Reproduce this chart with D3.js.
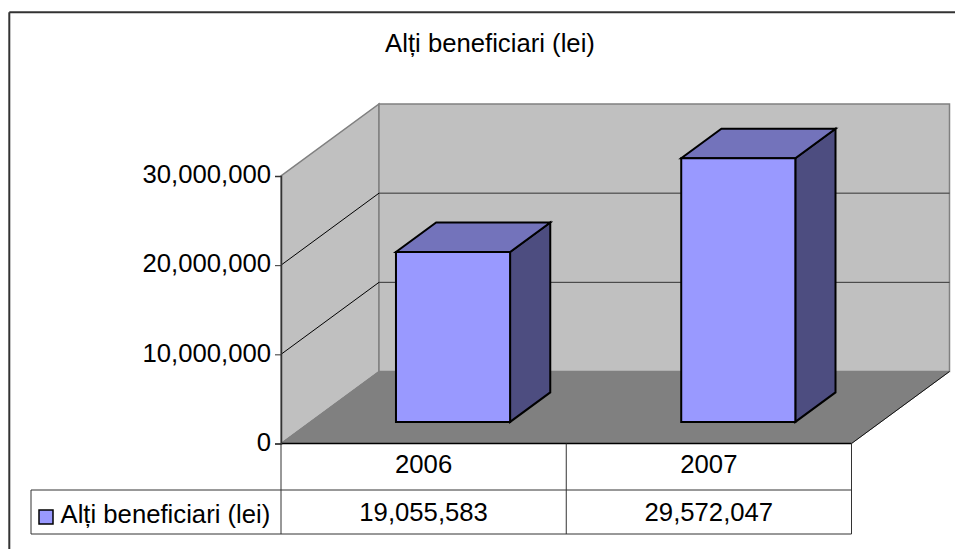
<!DOCTYPE html>
<html>
<head>
<meta charset="utf-8">
<script src="https://cdn.jsdelivr.net/npm/d3@7/dist/d3.min.js"></script>
<style>
html, body { margin: 0; padding: 0; background: #fff; }
svg { display: block; }
text { font-family: "Liberation Sans", Arial, sans-serif; fill: #000; }
</style>
</head>
<body>
<svg id="chart" width="955" height="549"></svg>
<script>
const TITLE = "Alți beneficiari (lei)";
const years = ["2006", "2007"];
const series_values = [19055583, 29572047];
const y_ticks = [0, 10000000, 20000000, 30000000];
const value_labels = ["19,055,583", "29,572,047"];

const LEFT = 281, RIGHT = 851.5, FLOOR_Y = 443.5, TOP_Y = 176;
const DEPTH_X = 98, DEPTH_Y = -72;
const TABLE_LEFT = 31, ROW_1 = 490, ROW_2 = 534;
const FONT_SIZE = 25.7;

var svg = d3.select("#chart");

var slots = d3.scaleBand().domain(years).range([LEFT, RIGHT]);
var y = d3.scaleLinear().domain([0, 30000000]).range([FLOOR_Y, TOP_Y]);

// front plane coordinates pushed back by depth d (0 = front, 1 = back wall)
function project(px, py, d) {
    return [px + d * DEPTH_X, py + d * DEPTH_Y];
}

function poly(points, fill, stroke, width) {
    svg.append("path")
        .attr("d", "M" + points.map(p => p.join(",")).join("L") + "Z")
        .attr("fill", fill)
        .attr("stroke", stroke)
        .attr("stroke-width", width)
        .attr("stroke-linejoin", "miter");
}

function line(x1, y1, x2, y2, stroke, width) {
    svg.append("line")
        .attr("x1", x1).attr("y1", y1)
        .attr("x2", x2).attr("y2", y2)
        .attr("stroke", stroke)
        .attr("stroke-width", width);
}

// outer frame, only top and left are inside the picture
line(9.3, 12.3, 955, 12.3, "#333", 2);
line(9.3, 12.3, 9.3, 549, "#333", 2);

svg.append("text")
    .attr("x", 490).attr("y", 52)
    .attr("text-anchor", "middle")
    .attr("font-size", FONT_SIZE)
    .text(TITLE);

// side wall, back wall, floor
var top_val = y(30000000);
poly([[LEFT, FLOOR_Y], [LEFT, top_val], project(LEFT, top_val, 1), project(LEFT, FLOOR_Y, 1)], "#c0c0c0", "#808080", 1.5);
poly([project(LEFT, top_val, 1), project(RIGHT, top_val, 1), project(RIGHT, FLOOR_Y, 1), project(LEFT, FLOOR_Y, 1)], "#c0c0c0", "#808080", 1.5);
poly([[LEFT, FLOOR_Y], [RIGHT, FLOOR_Y], project(RIGHT, FLOOR_Y, 1), project(LEFT, FLOOR_Y, 1)], "#808080", "#808080", 1);

// gridlines
y_ticks.filter(t => t > 0 && t < 30000000).forEach(function(t) {
    var a = project(LEFT, y(t), 0), b = project(LEFT, y(t), 1), c = project(RIGHT, y(t), 1);
    line(a[0], a[1], b[0], b[1], "#000", 1);
    line(b[0], b[1], c[0], c[1], "#333", 1);
});

// bars
const BAR_NEAR = 0.3, BAR_FAR = 0.71;
const BAR_START = 0.3, BAR_WIDTH = 0.4;
series_values.forEach(function(v, i) {
    var x0 = slots(years[i]) + slots.bandwidth() * BAR_START;
    var x1 = x0 + slots.bandwidth() * BAR_WIDTH;
    var yb = y(0), yt = y(v);
    poly([project(x1, yb, BAR_NEAR), project(x1, yt, BAR_NEAR), project(x1, yt, BAR_FAR), project(x1, yb, BAR_FAR)], "#4d4d80", "#000", 2);
    poly([project(x0, yt, BAR_NEAR), project(x1, yt, BAR_NEAR), project(x1, yt, BAR_FAR), project(x0, yt, BAR_FAR)], "#7373bb", "#000", 2);
    poly([project(x0, yb, BAR_NEAR), project(x1, yb, BAR_NEAR), project(x1, yt, BAR_NEAR), project(x0, yt, BAR_NEAR)], "#9999ff", "#000", 2);
});

// front edges of the floor
line(LEFT, FLOOR_Y, RIGHT, FLOOR_Y, "#000", 1.5);
var fr = project(RIGHT, FLOOR_Y, 1);
line(RIGHT, FLOOR_Y, fr[0], fr[1], "#111", 1);

// y axis
var axis = d3.axisLeft(y)
    .tickValues(y_ticks)
    .tickFormat(d3.format(","))
    .tickSize(6)
    .tickPadding(4);
var g = svg.append("g")
    .attr("transform", "translate(" + LEFT + ",0)")
    .call(axis);
g.select(".domain").attr("stroke", "#333").attr("stroke-width", 1.5);
g.selectAll(".tick line").attr("stroke", "#333");
g.selectAll(".tick text").attr("font-size", FONT_SIZE).attr("fill", "#000")
    .attr("dy", "0.26em")
    .style("font-family", '"Liberation Sans", Arial, sans-serif');

// data table
line(LEFT, FLOOR_Y, LEFT, ROW_2, "#333", 1);
line(slots(years[1]), FLOOR_Y, slots(years[1]), ROW_2, "#333", 1);
line(RIGHT, FLOOR_Y, RIGHT, ROW_2, "#333", 1);
line(TABLE_LEFT, ROW_1, RIGHT, ROW_1, "#333", 1);
line(TABLE_LEFT, ROW_2, RIGHT, ROW_2, "#333", 1);
line(TABLE_LEFT, ROW_1, TABLE_LEFT, ROW_2, "#333", 1);

years.forEach(function(yr, i) {
    var cx = slots(yr) + slots.bandwidth() / 2;
    svg.append("text").attr("x", cx).attr("y", 473)
        .attr("text-anchor", "middle").attr("font-size", FONT_SIZE).text(yr);
    svg.append("text").attr("x", cx).attr("y", 520.5)
        .attr("text-anchor", "middle").attr("font-size", FONT_SIZE).text(value_labels[i]);
});

// legend key
svg.append("rect")
    .attr("x", 39).attr("y", 510)
    .attr("width", 14).attr("height", 14)
    .attr("fill", "#9999ff")
    .attr("stroke", "#000")
    .attr("stroke-width", 1.5);
svg.append("text").attr("x", 60.5).attr("y", 522.5)
    .attr("font-size", FONT_SIZE).text(TITLE);
</script>
</body>
</html>
